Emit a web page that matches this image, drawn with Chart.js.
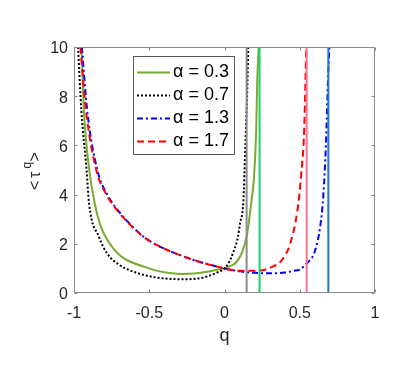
<!DOCTYPE html>
<html><head><meta charset="utf-8">
<script src="https://cdn.jsdelivr.net/npm/chart.js@4"></script>
<style>html,body{margin:0;padding:0;background:#fff;}canvas{display:block;}</style>
</head><body>
<canvas id="c" width="407" height="366"></canvas>
<script>
// ---- data ----
const alphas = ['0.3', '0.7', '1.3', '1.7'];

const q03   = [-0.95, -0.934, -0.898, -0.862, -0.83, -0.79, -0.69, -0.613, -0.524, -0.446, -0.35, -0.28, -0.2, -0.116, -0.05, 0, 0.037, 0.08, 0.12, 0.147, 0.18, 0.196, 0.21, 0.218, 0.228];
const tau03 = [10, 7.4, 4.97, 3.64, 2.85, 2.28, 1.5, 1.24, 1.05, 0.9, 0.8, 0.77, 0.79, 0.86, 0.95, 1.0, 1.09, 1.26, 1.7, 2.3, 3.77, 4.7, 6.5, 8.7, 10];

const q07   = [-0.973, -0.951, -0.916, -0.9, -0.834, -0.779, -0.7, -0.628, -0.568, -0.473, -0.35, -0.251, -0.141, -0.05, 0, 0.03, 0.059, 0.09, 0.103, 0.125, 0.139, 0.15, 0.158];
const tau07 = [10, 7.4, 4.97, 3.64, 2.28, 1.6, 1.15, 0.92, 0.79, 0.65, 0.57, 0.56, 0.63, 0.83, 1.0, 1.25, 1.67, 2.3, 2.82, 3.7, 6.05, 8.0, 10];

const q13   = [-0.948, -0.912, -0.845, -0.779, -0.7, -0.62, -0.55, -0.48, -0.4, -0.3, -0.2, -0.1, 0, 0.1, 0.2, 0.3, 0.4, 0.46, 0.5, 0.546, 0.59, 0.601, 0.635, 0.657, 0.674, 0.688, 0.697];
const tau13 = [10, 7.4, 5.0, 4.0, 3.3, 2.75, 2.35, 2.05, 1.8, 1.55, 1.33, 1.15, 1.0, 0.88, 0.82, 0.8, 0.83, 0.9, 0.95, 1.2, 1.53, 1.71, 2.66, 4.0, 6.05, 8.7, 10];

const q17   = [-0.958, -0.92, -0.852, -0.785, -0.705, -0.623, -0.552, -0.481, -0.4, -0.3, -0.2, -0.1, 0, 0.06, 0.15, 0.236, 0.3, 0.38, 0.435, 0.484, 0.508, 0.53, 0.543];
const tau17 = [10, 7.4, 5.0, 4.0, 3.3, 2.75, 2.35, 2.05, 1.8, 1.55, 1.33, 1.15, 1.0, 0.92, 0.9, 0.91, 1.02, 1.33, 1.98, 3.34, 4.7, 6.73, 10];

const asymptoteQ = [0.147, 0.233, 0.546, 0.69];   // gray, green, pink, blue verticals

const xTickValues = [-1, -0.5, 0, 0.5, 1];
const xTickLabels = ['-1', '-0.5', '0', '0.5', '1'];
const yTickValues = [0, 2, 4, 6, 8, 10];
const yTickLabels = ['0', '2', '4', '6', '8', '10'];

// ---- styling ----
const curveStyles = [
  {color: '#77AC30', dash: [], order: 5},
  {color: '#000000', dash: [2, 2], order: 4},
  {color: '#0000FF', dash: [6, 3, 2, 3], order: 3},
  {color: '#FF0000', dash: [7, 4], order: 2}
];
const vlineColors = ['#8c8c8c', '#1ecf6a', '#ff6f91', '#1f78c1'];

const curveQ = [q03, q07, q13, q17];
const curveT = [tau03, tau07, tau13, tau17];
const pts = (xs, ys) => xs.map((x, i) => ({x: x, y: ys[i]}));

const datasets = [];
alphas.forEach((a, i) => {
  const s = curveStyles[i];
  datasets.push({
    label: '\u03B1 = ' + a,
    data: pts(curveQ[i], curveT[i]),
    borderColor: s.color, borderWidth: 2, borderDash: s.dash,
    pointRadius: 0, showLine: true, fill: false,
    cubicInterpolationMode: 'monotone', order: s.order
  });
});
asymptoteQ.forEach((q, i) => {
  datasets.push({
    label: 'v' + i,
    data: [{x: q, y: yTickValues[0]}, {x: q, y: yTickValues[yTickValues.length - 1]}],
    borderColor: vlineColors[i], borderWidth: 2,
    pointRadius: 0, showLine: true, fill: false, order: 1
  });
});

const FONT = '"Liberation Sans", Arial, sans-serif';

const decor = {
  id: 'decor',
  afterDatasetsDraw(chart) {
    const {ctx, chartArea: a, scales: {x, y}} = chart;
    ctx.save();
    ctx.strokeStyle = '#8a8a8a';
    ctx.lineWidth = 1;
    const L = Math.round(a.left) + 0.5, R = Math.round(a.right) - 0.5;
    const T = Math.round(a.top) + 0.5, B = Math.round(a.bottom) - 0.5;
    ctx.beginPath();
    ctx.moveTo(L, T); ctx.lineTo(R, T); ctx.lineTo(R, B); ctx.lineTo(L, B); ctx.closePath();
    const tl = 3;
    xTickValues.forEach(v => {
      const px = Math.round(x.getPixelForValue(v)) + 0.5;
      ctx.moveTo(px, B); ctx.lineTo(px, B - tl);
      ctx.moveTo(px, T); ctx.lineTo(px, T + tl);
    });
    yTickValues.forEach(v => {
      const py = Math.round(y.getPixelForValue(v)) + 0.5;
      ctx.moveTo(L, py); ctx.lineTo(L + tl, py);
      ctx.moveTo(R, py); ctx.lineTo(R - tl, py);
    });
    ctx.stroke();
    ctx.restore();
  },
  afterDraw(chart) {
    const {ctx, chartArea: a} = chart;
    ctx.save();
    // x title
    ctx.fillStyle = '#262626';
    ctx.font = '18px ' + FONT;
    ctx.textAlign = 'center';
    ctx.textBaseline = 'alphabetic';
    ctx.fillText('q', (a.left + a.right) / 2, 341);
    // y title  <τ^q>
    ctx.save();
    ctx.translate(40, 171.5);
    ctx.rotate(-Math.PI / 2);
    ctx.textAlign = 'left';
    ctx.font = '16px ' + FONT;
    ctx.fillText('<', -18.5, 0);
    ctx.fillText('\u03C4', -6.5, 0);
    ctx.font = '12px ' + FONT;
    ctx.fillText('q', 3, -9.5);
    ctx.font = '16px ' + FONT;
    ctx.fillText('>', 10, 0);
    ctx.restore();

    // legend
    const bx = 133.5, by = 56.5, bw = 101, bh = 98;
    ctx.fillStyle = '#ffffff';
    ctx.fillRect(bx, by, bw, bh);
    ctx.strokeStyle = '#555555';
    ctx.lineWidth = 1;
    ctx.strokeRect(bx, by, bw, bh);
    const rows = [72.5, 95.5, 118.5, 141.5];
    alphas.forEach((al, i) => {
      const ds = chart.data.datasets[i];
      ctx.beginPath();
      ctx.strokeStyle = ds.borderColor;
      ctx.lineWidth = 2;
      ctx.setLineDash(ds.borderDash || []);
      ctx.moveTo(137, rows[i]); ctx.lineTo(170, rows[i]);
      ctx.stroke();
      ctx.setLineDash([]);
      ctx.fillStyle = '#000000';
      ctx.font = '18px ' + FONT;
      ctx.textAlign = 'left';
      ctx.textBaseline = 'middle';
      ctx.fillText(ds.label, 173, rows[i] - 0.5);
    });
    ctx.restore();
  }
};

new Chart(document.getElementById('c'), {
  type: 'scatter',
  data: {datasets: datasets},
  options: {
    responsive: false,
    animation: false,
    devicePixelRatio: 1,
    layout: {padding: {left: 0, right: 32, top: 47, bottom: 0}},
    plugins: {legend: {display: false}, tooltip: {enabled: false}},
    scales: {
      x: {
        type: 'linear', min: -1, max: 1,
        grid: {display: false, drawTicks: false}, border: {display: false},
        afterBuildTicks: s => { s.ticks = xTickValues.map(v => ({value: v})); },
        afterFit: s => { s.height = 73; },
        ticks: {
          padding: 11, color: '#262626', font: {family: FONT, size: 16},
          maxRotation: 0, autoSkip: false,
          callback: (v) => xTickLabels[xTickValues.indexOf(v)]
        }
      },
      y: {
        type: 'linear', min: 0, max: 10,
        grid: {display: false, drawTicks: false}, border: {display: false},
        afterBuildTicks: s => { s.ticks = yTickValues.map(v => ({value: v})); },
        afterFit: s => { s.width = 74; },
        ticks: {
          padding: 6, labelOffset: 2, color: '#262626', font: {family: FONT, size: 16},
          autoSkip: false,
          callback: (v) => yTickLabels[yTickValues.indexOf(v)]
        }
      }
    }
  },
  plugins: [decor]
});
</script>
</body></html>
